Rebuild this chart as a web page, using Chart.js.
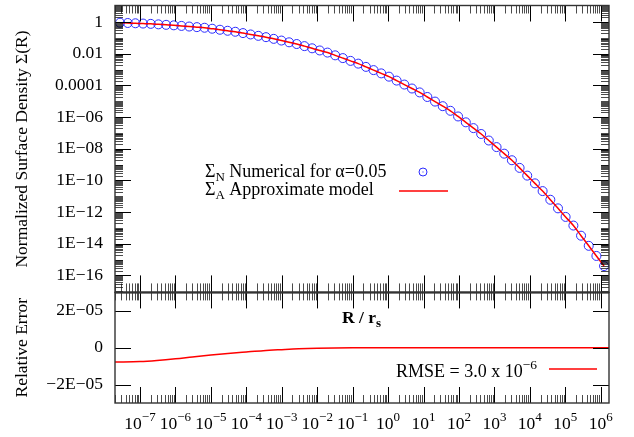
<!DOCTYPE html>
<html>
<head>
<meta charset="utf-8">
<script src="https://cdn.jsdelivr.net/npm/chart.js@4.4.0/dist/chart.umd.min.js"></script>
<style>
  html, body { margin: 0; padding: 0; background: #fff; }
  #wrap { width: 634px; height: 437px; }
</style>
</head>
<body>
<div id="wrap"><canvas id="sigmaChart" width="634" height="437"></canvas></div>
<script>
// R / r_s where the numerical profile was sampled
const radii = [
  2.73e-8, 4.50e-8, 7.41e-8, 1.22e-7, 2.01e-7, 3.31e-7, 5.46e-7, 8.99e-7,
  1.48e-6, 2.44e-6, 4.02e-6, 6.62e-6, 1.09e-5, 1.80e-5, 2.96e-5, 4.88e-5,
  8.04e-5, 1.32e-4, 2.18e-4, 3.59e-4, 5.92e-4, 9.75e-4, 1.61e-3, 2.64e-3,
  4.36e-3, 7.18e-3, 1.18e-2, 1.95e-2, 3.21e-2, 5.28e-2, 8.71e-2, 1.44e-1,
  2.37e-1, 3.89e-1, 6.41e-1, 1.06, 1.74, 2.87, 4.72, 7.78,
  12.8, 21.1, 34.8, 57.3, 94.4, 156, 256, 423,
  695, 1.15e3, 1.89e3, 3.11e3, 5.13e3, 8.43e3, 1.39e4, 2.29e4,
  3.78e4, 6.22e4, 1.02e5, 1.69e5, 2.78e5, 4.58e5, 7.55e5, 1.24e6
];

// normalized surface density, numerical (alpha = 0.05)
const sigmaNumerical = [
  0.917, 0.881, 0.845, 0.811, 0.776, 0.723, 0.673, 0.627,
  0.575, 0.526, 0.482, 0.441, 0.382, 0.330, 0.284, 0.246,
  0.203, 0.166, 0.136, 0.112, 0.0877, 0.0684, 0.0531, 0.0413,
  0.0305, 0.0222, 0.0162, 0.0119, 7.98e-3, 5.34e-3, 3.57e-3, 2.39e-3,
  1.49e-3, 9.31e-4, 5.78e-4, 3.60e-4, 2.03e-4, 1.14e-4, 6.41e-5, 3.63e-5,
  1.87e-5, 9.58e-6, 4.91e-6, 2.51e-6, 1.10e-6, 4.70e-7, 2.02e-7, 8.59e-8,
  3.33e-8, 1.28e-8, 4.92e-9, 1.89e-9, 6.22e-10, 2.02e-10, 6.55e-11, 2.13e-11,
  6.05e-12, 1.73e-12, 4.99e-13, 1.42e-13, 3.25e-14, 7.45e-15, 1.71e-15, 3.93e-16
];

// approximate model: differs by ~1e-5 relative, same at this precision
const sigmaModel = sigmaNumerical;

// relative error panel
const errRadii = [
  1.97e-8, 1e-7, 3e-7, 1e-6, 3e-6, 1e-5, 3e-5, 1e-4, 3e-4, 1e-3, 3e-3,
  1e-2, 1e-1, 1, 10, 100, 1e3, 1e4, 1e5, 1e6, 1.71e6
];
const relError = [
  -7.8e-6, -7.5e-6, -6.9e-6, -6.0e-6, -5.0e-6, -3.95e-6, -3.1e-6, -2.3e-6, -1.6e-6, -1.05e-6, -0.6e-6,
  -0.3e-6, -0.05e-6, 0, 0, 0, 0, 0, 0, 0, 0
];

const yTopTicks = [1e-16, 1e-14, 1e-12, 1e-10, 1e-8, 1e-6, 1e-4, 1e-2, 1];
const yTopLabels = ['1E\u221216', '1E\u221214', '1E\u221212', '1E\u221210', '1E\u221208', '1E\u221206', '0.0001', '0.01', '1'];
const yErrTicks = [-2e-5, 0, 2e-5];
const yErrLabels = ['\u22122E\u221205', '0', '2E\u221205'];
const xDecades = [-7, -6, -5, -4, -3, -2, -1, 0, 1, 2, 3, 4, 5, 6];

const serif = "'Liberation Serif', 'DejaVu Serif', serif";
const F = (px, bold) => (bold ? 'bold ' : '') + px + 'px ' + serif;

function richText(ctx, parts, x, y, align) {
  let w = 0;
  parts.forEach(p => { ctx.font = p.font; p.w = ctx.measureText(p.text).width; w += p.w; });
  let cx = align === 'right' ? x - w : align === 'center' ? x - w / 2 : x;
  parts.forEach(p => { ctx.font = p.font; ctx.fillText(p.text, cx, y + (p.dy || 0)); cx += p.w; });
}

// y axes keep a fixed width and no extra label padding
const fixAxis = s => {
  s.width = 115;
  s.paddingTop = 0;
  s.paddingBottom = 0;
};

// gnuplot-like frame: mirrored major/minor ticks, labels with superscripts, keys
const framePlugin = {
  id: 'frame',
  afterDraw(chart) {
    const ctx = chart.ctx;
    const xs = chart.scales.x, yt = chart.scales.y, yb = chart.scales.yErr;
    const L = chart.chartArea.left, R = chart.chartArea.right;
    const T = yt.top, M = yt.bottom, B = yb.bottom;
    const seg = (x1, y1, x2, y2, major) => {
      ctx.strokeStyle = major ? '#000' : 'rgba(0,0,0,0.7)';
      ctx.lineWidth = 1;
      ctx.beginPath(); ctx.moveTo(x1, y1); ctx.lineTo(x2, y2); ctx.stroke();
    };
    ctx.save();

    // x ticks on both panels
    for (let e = -8; e <= 6; e++) {
      for (let m = 1; m <= 9; m++) {
        const v = m * Math.pow(10, e);
        if (v < xs.min || v > xs.max) continue;
        const px = Math.round(xs.getPixelForValue(v)) + 0.5;
        const major = m === 1;
        const len = major ? 16 : 8;
        seg(px, T, px, T + len, major);
        seg(px, M, px, M - (major ? 17 : 9), major);
        seg(px, M, px, M + len, major);
        seg(px, B, px, B - len, major);
      }
    }

    // y ticks, top panel (log)
    for (let e = -18; e <= 1; e++) {
      for (let m = 1; m <= 9; m++) {
        const v = m * Math.pow(10, e);
        if (v < yt.min || v > yt.max) continue;
        const py = Math.round(yt.getPixelForValue(v)) + 0.5;
        const major = m === 1 && e % 2 === 0;
        const len = major ? 16 : 8;
        seg(L, py, L + len, py, major);
        seg(R, py, R - len, py, major);
      }
    }

    // y ticks, error panel
    yErrTicks.forEach(v => {
      const py = Math.round(yb.getPixelForValue(v)) + 0.5;
      seg(L, py, L + 16, py, true);
      seg(R, py, R - 16, py, true);
    });

    // borders
    ctx.strokeStyle = '#333';
    ctx.lineWidth = 1.4;
    ctx.strokeRect(L, T, R - L, M - T);
    ctx.strokeRect(L, M, R - L, B - M);
    ctx.lineWidth = 2;
    ctx.beginPath(); ctx.moveTo(L, M); ctx.lineTo(R, M); ctx.stroke();

    // x tick labels 10^n
    ctx.fillStyle = '#000';
    ctx.textAlign = 'left';
    ctx.textBaseline = 'alphabetic';
    xDecades.forEach(e => {
      const px = xs.getPixelForValue(Math.pow(10, e));
      const ex = e < 0 ? '\u2212' + Math.abs(e) : String(e);
      richText(ctx, [
        { text: '10', font: F(17.5) },
        { text: ex, font: F(13), dy: -8 }
      ], px, 429, 'center');
    });

    // x axis title of the upper panel
    richText(ctx, [
      { text: 'R / r', font: F(17.5, true) },
      { text: 's', font: F(13, true), dy: 4 }
    ], 342, 323, 'left');

    // key, upper panel
    richText(ctx, [
      { text: '\u03A3', font: F(18) },
      { text: 'N', font: F(13), dy: 4 },
      { text: ' Numerical for \u03B1=0.05', font: F(18) }
    ], 205, 177, 'left');
    richText(ctx, [
      { text: '\u03A3', font: F(18) },
      { text: 'A', font: F(13), dy: 4 },
      { text: ' Approximate model', font: F(18) }
    ], 205, 195, 'left');
    ctx.strokeStyle = '#2b2bff';
    ctx.lineWidth = 1;
    ctx.beginPath(); ctx.arc(423, 172, 4, 0, Math.PI * 2); ctx.stroke();
    ctx.fillStyle = '#2b2bff';
    ctx.fillRect(422.5, 171.5, 1, 1);
    ctx.strokeStyle = '#ff0000';
    ctx.lineWidth = 1.5;
    ctx.beginPath(); ctx.moveTo(399, 191); ctx.lineTo(448, 191); ctx.stroke();

    // key, error panel
    ctx.fillStyle = '#000';
    richText(ctx, [
      { text: 'RMSE = 3.0 x 10', font: F(18) },
      { text: '\u22126', font: F(13.5), dy: -8 }
    ], 537, 377, 'right');
    ctx.strokeStyle = '#ff0000';
    ctx.beginPath(); ctx.moveTo(549, 369); ctx.lineTo(597, 369); ctx.stroke();

    ctx.restore();
  }
};

Chart.defaults.font.family = serif;
Chart.defaults.font.size = 17.5;
Chart.defaults.color = '#000';

const ctx = document.getElementById('sigmaChart').getContext('2d');

new Chart(ctx, {
  type: 'line',
  data: {
    datasets: [
      {
        label: 'Numerical',
        data: radii.map((r, i) => ({ x: r, y: sigmaNumerical[i] })),
        yAxisID: 'y',
        showLine: false,
        pointStyle: 'circle',
        pointRadius: 4.5,
        pointBorderWidth: 1,
        pointBorderColor: '#2b2bff',
        pointBackgroundColor: 'rgba(0,0,0,0)',
        order: 2
      },
      {
        label: 'Approximate model',
        data: radii.map((r, i) => ({ x: r, y: sigmaModel[i] })),
        yAxisID: 'y',
        borderColor: '#ff0000',
        borderWidth: 1.5,
        pointRadius: 0,
        cubicInterpolationMode: 'monotone',
        order: 1
      },
      {
        label: 'Relative error',
        data: errRadii.map((r, i) => ({ x: r, y: relError[i] })),
        yAxisID: 'yErr',
        borderColor: '#ff0000',
        borderWidth: 1.5,
        pointRadius: 0,
        cubicInterpolationMode: 'monotone',
        order: 1
      }
    ]
  },
  options: {
    responsive: false,
    animation: false,
    events: [],
    layout: { padding: { top: 4, right: 25, left: 0, bottom: 0 } },
    plugins: { legend: { display: false }, tooltip: { enabled: false } },
    scales: {
      x: {
        type: 'logarithmic',
        position: 'bottom',
        min: 1.97e-8,
        max: 1.71e6,
        grid: { display: false, drawTicks: false },
        border: { display: false },
        ticks: { display: false },
        afterFit: s => { s.height = 34; s.paddingLeft = 0; s.paddingRight = 0; }
      },
      y: {
        type: 'logarithmic',
        position: 'left',
        stack: 'panels',
        stackWeight: 288,
        weight: 1,
        min: 8.5e-18,
        max: 11.2,
        grid: { display: false, drawTicks: false },
        border: { display: false },
        ticks: { padding: 12, autoSkip: false, callback: (v, i) => yTopLabels[i] },
        afterBuildTicks: s => { s.ticks = yTopTicks.map(v => ({ value: v })); },
        title: { display: true, text: 'Normalized Surface Density \u03A3(R)', padding: { top: 12, bottom: 0 } },
        afterFit: fixAxis
      },
      yErr: {
        type: 'linear',
        position: 'left',
        stack: 'panels',
        stackWeight: 111,
        weight: 0,
        min: -3e-5,
        max: 3e-5,
        grid: { display: false, drawTicks: false },
        border: { display: false },
        ticks: { padding: 12, autoSkip: false, callback: (v, i) => yErrLabels[i] },
        afterBuildTicks: s => { s.ticks = yErrTicks.map(v => ({ value: v })); },
        title: { display: true, text: 'Relative Error', padding: { top: 12, bottom: 0 } },
        afterFit: fixAxis
      }
    }
  },
  plugins: [framePlugin]
});
</script>
</body>
</html>
